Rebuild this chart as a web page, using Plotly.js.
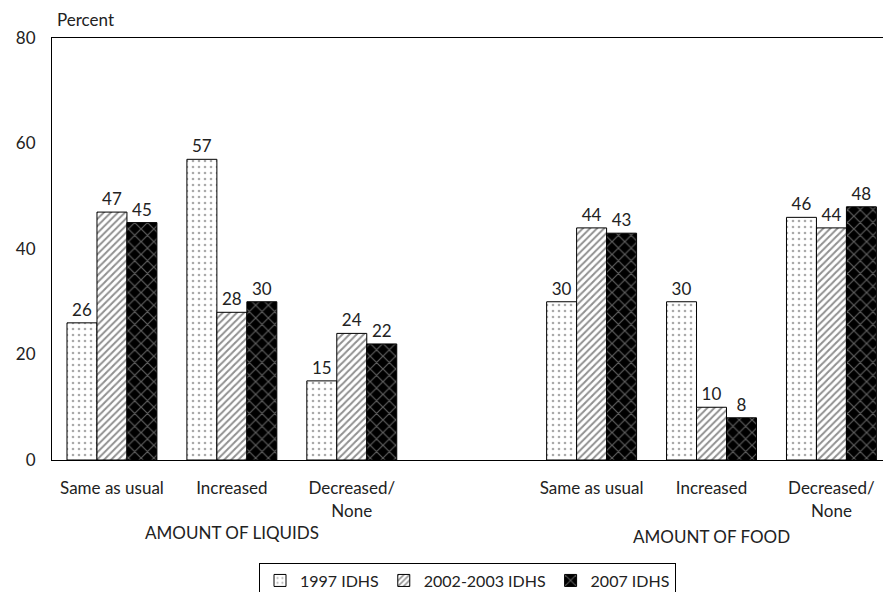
<!DOCTYPE html>
<html>
<head>
<meta charset="utf-8">
<script src="https://cdn.plot.ly/plotly-3.0.1.min.js"></script>
<style>html,body{margin:0;padding:0;background:#fff;}</style>
</head>
<body>
<div id="chart" style="width:883px;height:592px;"></div>
<script>
const categories = ["Same as usual", "Increased", "Decreased/<br>None", "", "Same as usual", "Increased", "Decreased/<br>None"];
const series = ["1997 IDHS", "2002-2003 IDHS", "2007 IDHS"];
const v1997 = [26, 57, 15, null, 30, 30, 46];
const v2002 = [47, 28, 24, null, 44, 10, 44];
const v2007 = [45, 30, 22, null, 43, 8, 48];
const groupLabels = ["AMOUNT OF LIQUIDS", "AMOUNT OF FOOD"];
const groupCenters = [1, 5];
const yTicks = [0, 20, 40, 60, 80];

const xs = categories.map((c, i) => i);
const FONT = "Lato, 'Open Sans', sans-serif";
const FS = 17;

function trace(name, vals, color, pattern) {
  return {
    type: "bar", name: name, x: xs, y: vals,
    marker: {color: color, line: {color: "#000", width: 1}, pattern: pattern},
    text: vals.map(v => v === null ? "" : String(v)),
    textposition: "outside", cliponaxis: false,
    textfont: {family: FONT, size: FS, color: "#222"}
  };
}

const data = [
  trace(series[0], v1997, "#fff", {shape: ".", fgcolor: "#555", bgcolor: "#fff", size: 6, solidity: 0.15, fillmode: "overlay"}),
  trace(series[1], v2002, "#fff", {shape: "/", fgcolor: "#222", bgcolor: "#fff", size: 5, solidity: 0.4, fillmode: "overlay"}),
  trace(series[2], v2007, "#000", {shape: "x", fgcolor: "#bbb", bgcolor: "#000", size: 9, solidity: 0.25, fillmode: "overlay"})
];

const layout = {
  width: 883, height: 592,
  margin: {l: 52, r: 0, t: 38, b: 132, autoexpand: false},
  paper_bgcolor: "#fff", plot_bgcolor: "#fff",
  font: {family: FONT, size: FS, color: "#222"},
  barmode: "group", bargap: 0.25, bargroupgap: 0,
  showlegend: true,
  legend: {orientation: "h", x: 0.5, xanchor: "center", y: -0.243, yanchor: "top",
           bordercolor: "#000", borderwidth: 1, font: {family: FONT, size: 16, color: "#222"},
           itemwidth: 30, tracegroupgap: 0, traceorder: "normal"},
  xaxis: {
    range: [-0.5, 6.43], tickmode: "array", tickvals: xs, ticktext: categories,
    showline: true, linecolor: "#000", linewidth: 1, mirror: true,
    showgrid: false, zeroline: false, ticks: "", ticklabelstandoff: 13,
    tickfont: {family: FONT, size: FS, color: "#222"}, fixedrange: true
  },
  yaxis: {
    range: [0, 80], tickmode: "array", tickvals: yTicks,
    showline: true, linecolor: "#000", linewidth: 1,
    showgrid: false, zeroline: false, ticks: "", ticklabelstandoff: 12,
    tickfont: {family: FONT, size: FS, color: "#222"}, fixedrange: true
  },
  annotations: [
    {text: "Percent", xref: "paper", yref: "paper", x: 0, y: 1, xanchor: "left", yanchor: "bottom", yshift: 6, xshift: 3, showarrow: false, font: {family: FONT, size: FS, color: "#222"}},
    {text: groupLabels[0], xref: "x", yref: "paper", x: groupCenters[0], y: -0.142, xanchor: "center", yanchor: "top", showarrow: false, font: {family: FONT, size: FS, color: "#222"}},
    {text: groupLabels[1], xref: "x", yref: "paper", x: groupCenters[1], y: -0.152, xanchor: "center", yanchor: "top", showarrow: false, font: {family: FONT, size: FS, color: "#222"}}
  ]
};

Plotly.newPlot("chart", data, layout, {displayModeBar: false, staticPlot: true});
</script>
</body>
</html>
